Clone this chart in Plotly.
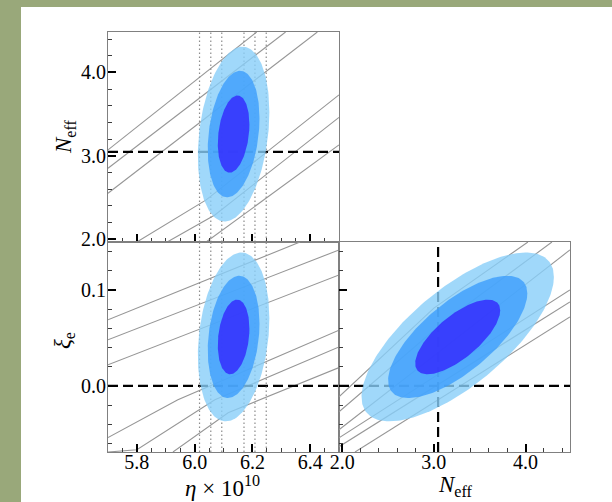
import numpy as np
import plotly.graph_objects as go

W, H = 612, 502

# ---------------- data ----------------
eta_range = [5.7, 6.5]
neff_range = [1.965, 4.485]
xi_range = [-0.069, 0.15]

eta_ticks = [5.8, 6.0, 6.2, 6.4]
eta_ticktext = ["5.8", "6.0", "6.2", "6.4"]
neff_ticks = [2.0, 3.0, 4.0]
neff_ticktext = ["2.0", "3.0", "4.0"]
xi_ticks = [0.0, 0.1]
xi_ticktext = ["0.0", "0.1"]

neff_ref = 3.046
xi_ref = 0.0
eta_cmb_bounds = [6.017, 6.056, 6.094, 6.171, 6.209, 6.248]

# posterior summaries
eta_mean, eta_sigma = 6.135, 0.036
neff_mean, neff_sigma = 3.26, 0.305
xi_mean, xi_sigma = 0.051, 0.0256
rho_eta_neff = 0.25
rho_eta_xi = 0.22
rho_neff_xi = 0.71
level_k = [3.44, 2.49, 1.52]          # 99.7 %, 95 %, 68 % (2D)
level_colors = ["rgb(136,206,249)", "rgb(60,158,253)", "rgb(50,38,252)"]

# grey iso-abundance lines (x list, y list)
lines_eta_neff = [
    ([5.70, 6.215], [3.07, 4.485]),
    ([5.70, 6.315], [2.85, 4.485]),
    ([5.70, 6.425], [2.55, 4.485]),
    ([5.80, 6.04, 6.50], [1.965, 2.47, 3.73]),
    ([5.905, 6.07, 6.50], [1.965, 2.29, 3.46]),
    ([6.04, 6.50], [1.965, 3.13]),
]
lines_eta_xi = [
    ([5.70, 6.365], [0.0688, 0.15]),
    ([5.70, 6.50], [0.048, 0.1417]),
    ([5.70, 6.50], [0.022, 0.1156]),
    ([5.70, 5.942, 6.50], [-0.054, -0.0146, 0.058]),
    ([5.70, 5.80, 6.07, 6.50], [-0.069, -0.0667, -0.0146, 0.0406]),
    ([5.925, 6.116, 6.50], [-0.069, -0.028, 0.019]),
]
lines_neff_xi = [
    ([1.965, 3.00, 4.026], [-0.0115, 0.081, 0.15]),
    ([1.965, 3.10, 4.288], [-0.0271, 0.066, 0.15]),
    ([1.965, 4.484], [-0.0458, 0.1417]),
    ([1.965, 4.484], [-0.0542, 0.100]),
    ([1.965, 4.484], [-0.0635, 0.0875]),
    ([2.14, 4.484], [-0.069, 0.0719]),
]

# ---------------- figure ----------------
fig = go.Figure()


def ellipse(mx, sx, my, sy, rho, k, n=200):
    t = np.linspace(0, 2 * np.pi, n)
    x = mx + k * sx * np.cos(t)
    y = my + k * sy * (rho * np.cos(t) + np.sqrt(1 - rho ** 2) * np.sin(t))
    return x, y


panels = [
    ("x", "y", lines_eta_neff, (eta_mean, eta_sigma, neff_mean, neff_sigma, rho_eta_neff)),
    ("x2", "y2", lines_eta_xi, (eta_mean, eta_sigma, xi_mean, xi_sigma, rho_eta_xi)),
    ("x3", "y3", lines_neff_xi, (neff_mean, neff_sigma, xi_mean, xi_sigma, rho_neff_xi)),
]

for xa, ya, lines, _ in panels:
    for lx, ly in lines:
        fig.add_trace(go.Scatter(x=lx, y=ly, mode="lines", xaxis=xa, yaxis=ya,
                                 line=dict(color="rgb(150,150,150)", width=1.1),
                                 hoverinfo="skip", showlegend=False))

dash_line = dict(color="black", width=2.2, dash="10px,5px")
fig.add_trace(go.Scatter(x=eta_range, y=[neff_ref, neff_ref], mode="lines", xaxis="x", yaxis="y",
                         line=dash_line, showlegend=False))
fig.add_trace(go.Scatter(x=eta_range, y=[xi_ref, xi_ref], mode="lines", xaxis="x2", yaxis="y2",
                         line=dash_line, showlegend=False))
fig.add_trace(go.Scatter(x=neff_range, y=[xi_ref, xi_ref], mode="lines", xaxis="x3", yaxis="y3",
                         line=dash_line, showlegend=False))
fig.add_trace(go.Scatter(x=[neff_ref, neff_ref], y=xi_range, mode="lines", xaxis="x3", yaxis="y3",
                         line=dash_line, showlegend=False))

dot_line = dict(color="rgb(140,140,140)", width=1.2, dash="1.5px,2.5px")
for v in eta_cmb_bounds:
    fig.add_trace(go.Scatter(x=[v, v], y=neff_range, mode="lines", xaxis="x", yaxis="y",
                             line=dot_line, showlegend=False))
    fig.add_trace(go.Scatter(x=[v, v], y=xi_range, mode="lines", xaxis="x2", yaxis="y2",
                             line=dot_line, showlegend=False))

for xa, ya, _, (mx, sx, my, sy, rho) in panels:
    for k, c in zip(level_k, level_colors):
        ex, ey = ellipse(mx, sx, my, sy, rho, k)
        fig.add_trace(go.Scatter(x=ex, y=ey, mode="lines", fill="toself", fillcolor=c,
                                 opacity=0.8, line=dict(width=0), xaxis=xa, yaxis=ya,
                                 hoverinfo="skip", showlegend=False))


def xd(a, b):
    return [a / W, b / W]


def yd(top, bottom):
    return [1 - bottom / H, 1 - top / H]


tickfont = dict(family="Liberation Serif", size=20, color="black")
common = dict(showgrid=False, zeroline=False, showline=True, linecolor="rgb(128,128,128)",
              linewidth=1, mirror=True, ticks="inside", ticklen=8, tickwidth=2.2,
              tickcolor="black", tickfont=tickfont, automargin=False)


def minor(d):
    return dict(dtick=d, ticks="inside", ticklen=4, tickwidth=1, tickcolor="rgb(60,60,60)")


fig.update_layout(
    width=W, height=H,
    autosize=False,
    margin=dict(l=0, r=0, t=0, b=0, pad=0, autoexpand=False),
    paper_bgcolor="rgb(153,168,122)",
    plot_bgcolor="rgba(0,0,0,0)",
    showlegend=False,
    xaxis=dict(common, domain=xd(108, 339), anchor="y", range=eta_range,
               tickvals=eta_ticks, ticktext=eta_ticktext, showticklabels=False, minor=minor(0.05)),
    yaxis=dict(common, domain=yd(32, 242), anchor="x", range=neff_range, ticklabelstandoff=-3,
               tickvals=neff_ticks, ticktext=neff_ticktext, minor=minor(0.2)),
    xaxis2=dict(common, domain=xd(108, 339), anchor="y2", range=eta_range, ticklabelstandoff=-8,
                tickvals=eta_ticks, ticktext=eta_ticktext, minor=minor(0.05)),
    yaxis2=dict(common, domain=yd(242, 452), anchor="x2", range=xi_range, ticklabelstandoff=-3,
                tickvals=xi_ticks, ticktext=xi_ticktext, minor=minor(0.02)),
    xaxis3=dict(common, domain=xd(339, 570), anchor="y3", range=neff_range, ticklabelstandoff=-8,
                tickvals=neff_ticks, ticktext=neff_ticktext, minor=minor(0.2)),
    yaxis3=dict(common, domain=yd(242, 452), anchor="x3", range=xi_range,
                tickvals=xi_ticks, ticktext=xi_ticktext, showticklabels=False, minor=minor(0.02)),
)

fig.add_shape(type="rect", xref="paper", yref="paper", x0=21 / W, x1=1.01, y0=-0.01, y1=1 - 7 / H,
              fillcolor="white", line=dict(width=0), layer="below")

titlefont = dict(family="Liberation Serif", size=23, color="black")
fig.add_annotation(text="<i>N</i><sub>eff</sub>", xref="paper", yref="paper",
                   x=65 / W, y=1 - 137 / H, showarrow=False, textangle=-90, font=titlefont,
                   xanchor="center", yanchor="middle")
fig.add_annotation(text="<i>ξ</i><sub>e</sub>", xref="paper", yref="paper",
                   x=64 / W, y=1 - 341 / H, showarrow=False, textangle=-90, font=titlefont,
                   xanchor="center", yanchor="middle")
fig.add_annotation(text="<i>η</i> × 10<sup>10</sup>", xref="paper", yref="paper",
                   x=222 / W, y=1 - 486 / H, showarrow=False, font=titlefont,
                   xanchor="center", yanchor="middle")
fig.add_annotation(text="<i>N</i><sub>eff</sub>", xref="paper", yref="paper",
                   x=455 / W, y=1 - 486 / H, showarrow=False, font=titlefont,
                   xanchor="center", yanchor="middle")

fig.write_html("out.html")
